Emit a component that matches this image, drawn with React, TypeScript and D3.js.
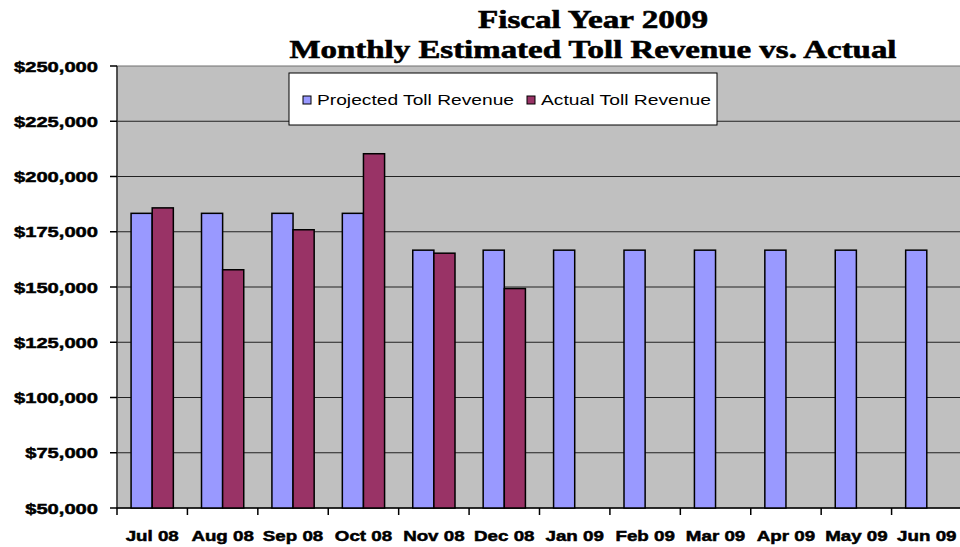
import * as d3 from "d3";
import React, { useEffect, useRef } from "react";

const months = ["Jul 08", "Aug 08", "Sep 08", "Oct 08", "Nov 08", "Dec 08", "Jan 09", "Feb 09", "Mar 09", "Apr 09", "May 09", "Jun 09"];
const projected = [183333, 183333, 183333, 183333, 166667, 166667, 166667, 166667, 166667, 166667, 166667, 166667];
const actual = [185800, 157800, 175900, 210300, 165300, 149300, null, null, null, null, null, null];
const yTicks = [50000, 75000, 100000, 125000, 150000, 175000, 200000, 225000, 250000];
const seriesNames = ["Projected Toll Revenue", "Actual Toll Revenue"];
const colors = ["#9999ff", "#993366"];

function App() {
    const ref = useRef<SVGSVGElement>(null);

    function drawChart() {
        const svg = d3.select(ref.current);
        svg.selectAll("*").remove();

        const left = 117, right = 962, top = 66, bottom = 508;

        const x = d3.scaleBand().domain(months).range([left, right]);
        const y = d3.scaleLinear().domain([50000, 250000]).range([bottom, top]);
        const bw = x.bandwidth();

        // title
        svg.append("text")
            .attr("x", 593).attr("y", 28)
            .attr("text-anchor", "middle")
            .attr("font-family", "Liberation Serif, serif")
            .attr("font-weight", "bold").attr("font-size", 26)
            .attr("stroke", "#000").attr("stroke-width", 0.6)
            .attr("textLength", 230).attr("lengthAdjust", "spacingAndGlyphs")
            .text("Fiscal Year 2009");
        svg.append("text")
            .attr("x", 593).attr("y", 58)
            .attr("text-anchor", "middle")
            .attr("font-family", "Liberation Serif, serif")
            .attr("font-weight", "bold").attr("font-size", 26)
            .attr("stroke", "#000").attr("stroke-width", 0.6)
            .attr("textLength", 607).attr("lengthAdjust", "spacingAndGlyphs")
            .text("Monthly Estimated Toll Revenue vs. Actual");

        // plot area
        svg.append("rect")
            .attr("x", left).attr("y", top)
            .attr("width", right - left).attr("height", bottom - top)
            .attr("fill", "#c0c0c0").attr("stroke", "#707070");

        // gridlines
        svg.selectAll(".grid")
            .data(yTicks.slice(1, -1))
            .enter().append("line")
            .attr("x1", left).attr("x2", right)
            .attr("y1", (d) => y(d)).attr("y2", (d) => y(d))
            .attr("stroke", "#222").attr("stroke-width", 1.2);

        // y axis
        svg.append("line")
            .attr("x1", left).attr("x2", left).attr("y1", top).attr("y2", bottom)
            .attr("stroke", "#333").attr("stroke-width", 1.5);
        svg.selectAll(".ytick")
            .data(yTicks)
            .enter().append("line")
            .attr("x1", left - 7).attr("x2", left)
            .attr("y1", (d) => y(d)).attr("y2", (d) => y(d))
            .attr("stroke", "#000").attr("stroke-width", 1.5);
        svg.selectAll(".ylabel")
            .data(yTicks)
            .enter().append("text")
            .attr("transform", (d) => `translate(98,${y(d) + 5.5}) scale(1.3,1)`)
            .attr("text-anchor", "end")
            .attr("font-family", "Liberation Sans, Arial, sans-serif")
            .attr("font-weight", "bold").attr("font-size", 15.5)
            .attr("stroke", "#000").attr("stroke-width", 0.5)
            .text((d) => d3.format("$,")(d));

        // x axis
        svg.append("line")
            .attr("x1", left).attr("x2", right).attr("y1", bottom).attr("y2", bottom)
            .attr("stroke", "#000").attr("stroke-width", 1.5);
        svg.selectAll(".xtick")
            .data(months)
            .enter().append("line")
            .attr("x1", (d) => x(d)!).attr("x2", (d) => x(d)!)
            .attr("y1", bottom).attr("y2", bottom + 7)
            .attr("stroke", "#000").attr("stroke-width", 1.5);
        svg.selectAll(".xlabel")
            .data(months)
            .enter().append("text")
            .attr("transform", (d) => `translate(${x(d)! + bw / 2},541) scale(1.25,1)`)
            .attr("text-anchor", "middle")
            .attr("font-family", "Liberation Sans, Arial, sans-serif")
            .attr("font-weight", "bold").attr("font-size", 15)
            .attr("stroke", "#000").attr("stroke-width", 0.5)
            .text((d) => d);

        // bars
        svg.selectAll(".proj")
            .data(months)
            .enter().append("rect")
            .attr("x", (d) => x(d)! + bw * 0.2)
            .attr("y", (d, i) => y(projected[i]))
            .attr("width", bw * 0.3)
            .attr("height", (d, i) => bottom - y(projected[i]))
            .attr("fill", colors[0]).attr("stroke", "#000").attr("stroke-width", 1.5);

        svg.selectAll(".act")
            .data(months.filter((d, i) => actual[i] != null))
            .enter().append("rect")
            .attr("x", (d) => x(d)! + bw * 0.5)
            .attr("y", (d, i) => y(actual[i]!))
            .attr("width", bw * 0.3)
            .attr("height", (d, i) => bottom - y(actual[i]!))
            .attr("fill", colors[1]).attr("stroke", "#000").attr("stroke-width", 1.5);

        // legend
        svg.append("rect")
            .attr("x", 289).attr("y", 73).attr("width", 428).attr("height", 52)
            .attr("fill", "#fff").attr("stroke", "#000");
        const legX = [303, 527];
        const legW = [197, 170];
        seriesNames.forEach((name, i) => {
            svg.append("rect")
                .attr("x", legX[i]).attr("y", 96).attr("width", 8).attr("height", 8)
                .attr("fill", colors[i]).attr("stroke", "#000");
            svg.append("text")
                .attr("x", legX[i] + 14).attr("y", 105)
                .attr("font-family", "Liberation Sans, Arial, sans-serif")
                .attr("font-size", 15)
                .attr("textLength", legW[i]).attr("lengthAdjust", "spacingAndGlyphs")
                .text(name);
        });
    }

    useEffect(() => {
        drawChart();
    }, []);

    return (
        <svg
            ref={ref}
            width={960}
            height={547}
            style={{ position: "absolute", left: 0, top: 0, background: "#fff" }}
        ></svg>
    );
}

export default App;
